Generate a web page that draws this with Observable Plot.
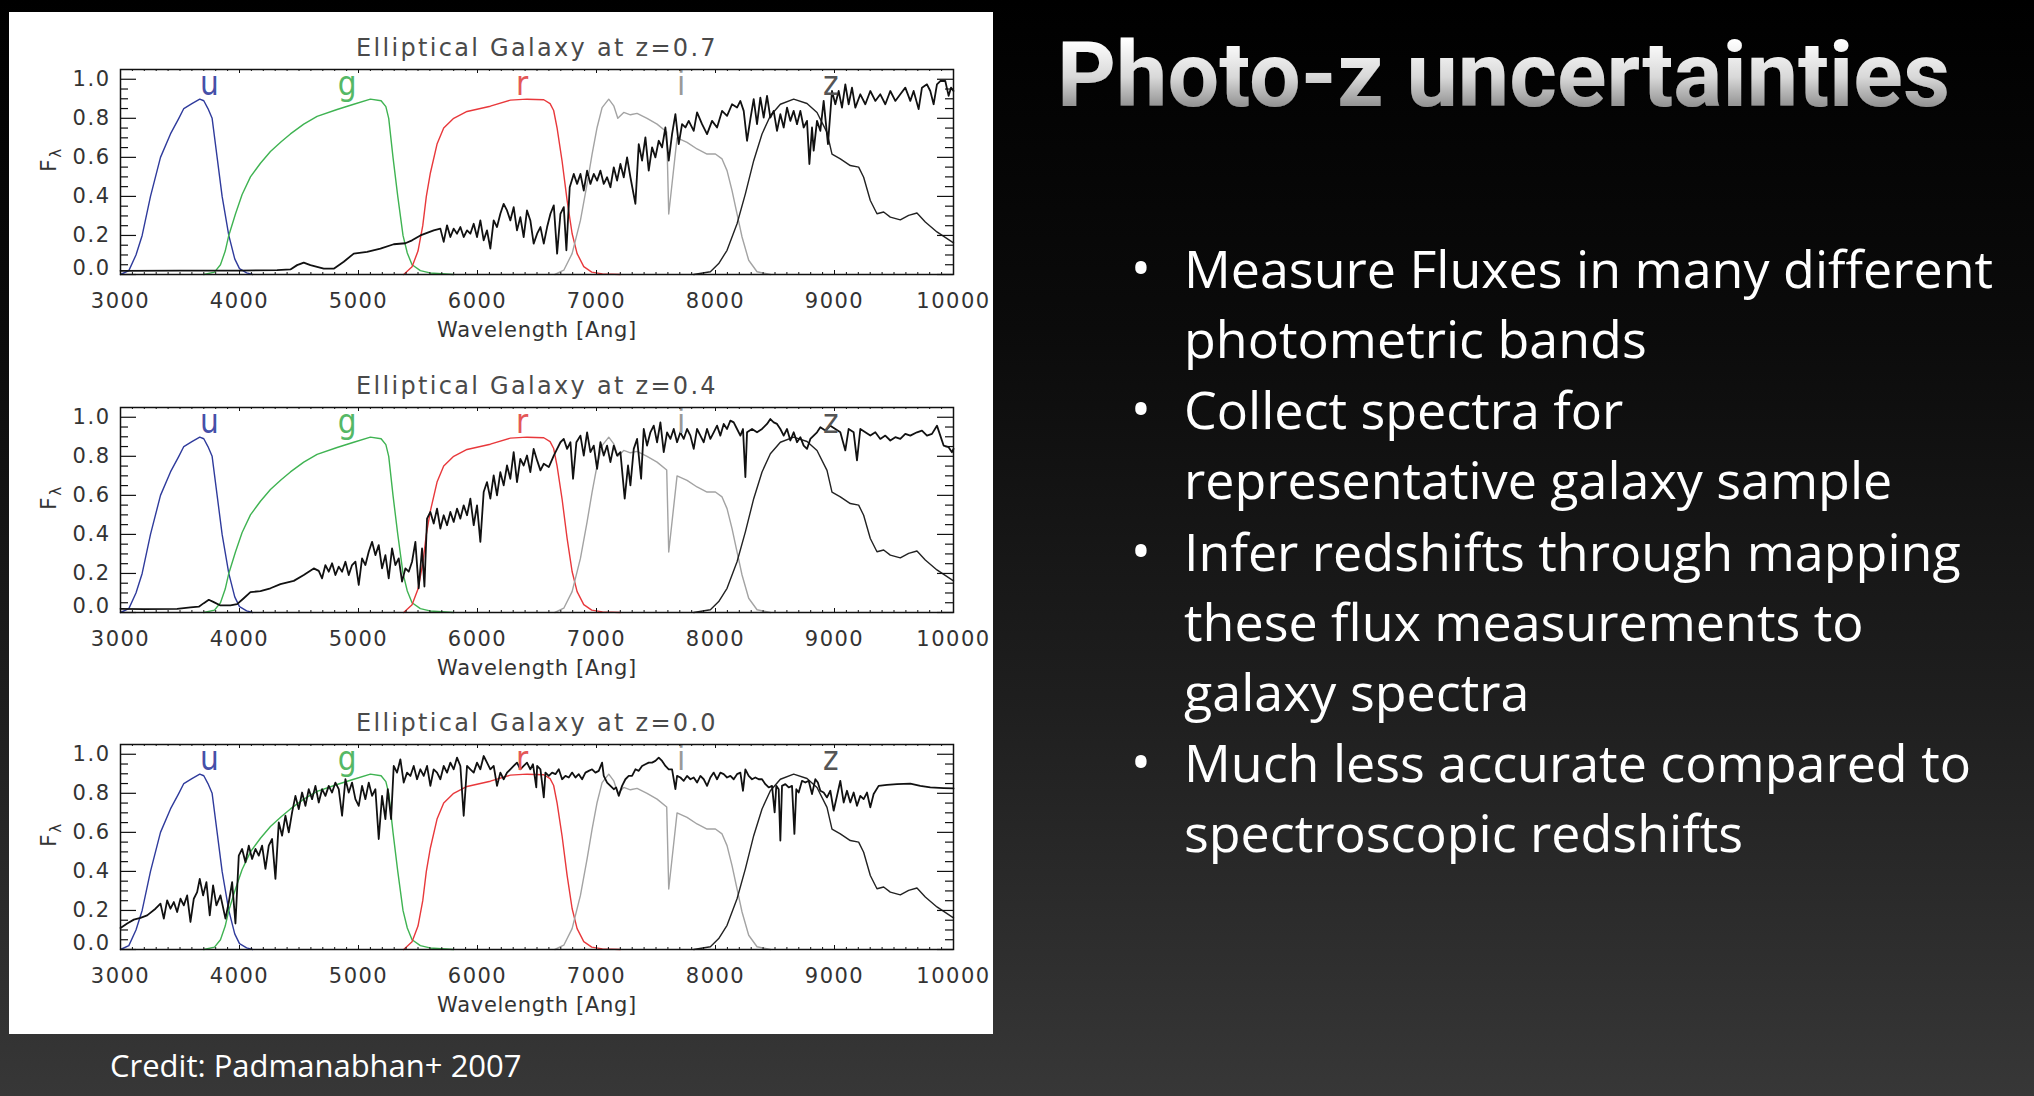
<!DOCTYPE html>
<html><head><meta charset="utf-8">
<script src="https://cdn.jsdelivr.net/npm/d3@7"></script>
<script src="https://cdn.jsdelivr.net/npm/@observablehq/plot@0.6"></script>
<style>
html,body{margin:0;padding:0;}
body{width:2034px;height:1096px;overflow:hidden;position:relative;
 background:linear-gradient(180deg,#000 0%,#0b0b0b 30%,#1f1f1f 65%,#373737 100%);}
#panel{position:absolute;left:9px;top:12px;width:984px;height:1022px;background:#fff;}
#panel svg{position:absolute;left:0;}
#slide{position:absolute;left:0;top:0;}
</style></head><body>
<div id="panel"></div>
<svg id="slide" width="2034" height="1096"></svg>
<script>
// ---------- data ----------
const panelTitles = ["Elliptical Galaxy at z=0.7", "Elliptical Galaxy at z=0.4", "Elliptical Galaxy at z=0.0"];
const xTickValues = [3000,4000,5000,6000,7000,8000,9000,10000];
const yTickValues = [0.2,0.4,0.6,0.8,1.0];
const yZeroLabel = "0.0";
const xLabel = "Wavelength [Ang]";
const yLabel = "Fλ";
const bandNames = ["u","g","r","i","z"];
const bandLabelWavelengths = [3748,4904,6374,7711,8968];
const bandColors = ["#2f3b9c","#3fb352","#e8383b","#a3a3a3","#222222"];
const bandLabelColors = ["#4650a8","#55b866","#e45757","#999999","#555555"];

const filterU = [[3000,0],[3070,0.02],[3130,0.1],[3182,0.2],[3252,0.4],[3336,0.6],[3420,0.72],[3490,0.8],[3532,0.85],[3600,0.875],[3666,0.898],[3700,0.89],[3735,0.85],[3770,0.8],[3812,0.6],[3854,0.4],[3910,0.2],[3960,0.08],[4000,0.03],[4060,0.008],[4110,0]];
const filterG = [[3700,0],[3790,0.012],[3840,0.05],[3880,0.12],[3910,0.2],[3966,0.31],[4022,0.41],[4092,0.5],[4176,0.57],[4260,0.63],[4350,0.68],[4428,0.72],[4540,0.77],[4652,0.81],[4820,0.845],[4960,0.872],[5100,0.898],[5190,0.89],[5230,0.86],[5254,0.8],[5290,0.6],[5330,0.4],[5374,0.2],[5410,0.11],[5450,0.05],[5520,0.02],[5600,0.008],[5800,0]];
const filterR = [[5380,0],[5450,0.04],[5500,0.12],[5540,0.25],[5570,0.4],[5604,0.52],[5660,0.668],[5716,0.75],[5800,0.8],[5912,0.835],[6108,0.862],[6276,0.893],[6416,0.898],[6557,0.895],[6610,0.875],[6640,0.84],[6669,0.75],[6711,0.58],[6753,0.38],[6795,0.21],[6837,0.107],[6893,0.04],[6960,0.012],[7050,0.003],[7200,0]];
const filterI = [[6650,0],[6725,0.022],[6795,0.107],[6865,0.277],[6921,0.464],[6963,0.617],[7005,0.753],[7047,0.855],[7103,0.898],[7145,0.864],[7179,0.8],[7229,0.83],[7285,0.818],[7341,0.825],[7425,0.8],[7509,0.77],[7590,0.73],[7607,0.31],[7677,0.70],[7761,0.677],[7845,0.643],[7929,0.617],[7999,0.617],[8055,0.592],[8097,0.532],[8139,0.43],[8181,0.311],[8223,0.192],[8279,0.073],[8349,0.014],[8461,0]];
const filterZ = [[7817,0],[7957,0.014],[8027,0.056],[8097,0.124],[8181,0.26],[8251,0.413],[8321,0.583],[8391,0.72],[8461,0.813],[8545,0.872],[8657,0.898],[8769,0.876],[8853,0.83],[8937,0.728],[8979,0.617],[9049,0.592],[9133,0.558],[9203,0.55],[9245,0.498],[9301,0.379],[9357,0.311],[9413,0.32],[9469,0.294],[9553,0.28],[9623,0.303],[9693,0.315],[9763,0.269],[9861,0.218],[10000,0.162]];

const specZ07 = [[3000,0.019],[3500,0.02],[4000,0.02],[4316,0.022],[4428,0.026],[4484,0.048],[4540,0.061],[4596,0.048],[4708,0.03],[4792,0.03],[4876,0.065],[4960,0.107],[5072,0.116],[5184,0.133],[5296,0.155],[5394,0.16],[5450,0.175],[5520,0.2],[5632,0.226],[5688,0.235],
[5716,0.167],[5744,0.252],[5772,0.192],[5800,0.235],[5828,0.209],[5856,0.243],[5884,0.192],[5912,0.226],[5940,0.209],[5968,0.26],[5996,0.192],[6024,0.277],[6052,0.175],[6080,0.226],[6108,0.133],[6136,0.277],[6164,0.243],[6192,0.311],[6220,0.362],[6248,0.328],[6276,0.277],[6304,0.345],[6332,0.226],[6360,0.294],[6388,0.192],[6416,0.328],[6444,0.277],[6472,0.158],
[6501,0.209],[6529,0.243],[6557,0.158],[6585,0.243],[6613,0.311],[6641,0.354],[6669,0.107],[6697,0.311],[6725,0.345],[6747,0.124],[6775,0.447],[6809,0.515],[6837,0.464],[6865,0.515],[6893,0.43],[6921,0.532],[6949,0.464],[6977,0.515],[7005,0.481],[7033,0.532],[7061,0.464],[7089,0.498],[7117,0.447],[7145,0.549],[7173,0.481],[7201,0.566],[7229,0.498],[7257,0.60],[7285,0.498],[7327,0.362],[7355,0.668],[7383,0.583],[7411,0.702],[7439,0.532],[7467,0.651],[7495,0.60],[7523,0.685],[7551,0.651],[7579,0.753],[7607,0.583],[7635,0.719],[7663,0.821],[7691,0.668],[7719,0.77],[7747,0.753],[7775,0.787],[7817,0.736],[7845,0.83],[7887,0.77],[7929,0.719],[7971,0.787],[8013,0.753],[8055,0.838],[8097,0.813],[8139,0.872],[8181,0.855],[8209,0.889],[8237,0.838],[8265,0.685],[8293,0.796],[8321,0.898],[8349,0.77],[8377,0.906],[8405,0.804],[8433,0.915],[8461,0.804],[8489,0.838],[8517,0.736],[8545,0.821],[8573,0.753],[8601,0.855],[8629,0.787],[8657,0.838],[8685,0.77],[8713,0.838],[8741,0.753],[8769,0.787],[8789,0.566],[8811,0.753],[8825,0.634],[8853,0.787],[8881,0.736],[8909,0.889],[8945,0.668],[8979,0.94],[9007,0.872],[9035,0.94],[9063,0.855],[9091,0.974],[9119,0.872],[9147,0.957],[9175,0.855],[9217,0.923],[9259,0.872],[9301,0.94],[9343,0.889],[9385,0.923],[9427,0.872],[9469,0.94],[9511,0.889],[9553,0.923],[9595,0.957],[9637,0.889],[9665,0.94],[9707,0.847],[9735,0.957],[9777,0.974],[9805,0.94],[9833,0.872],[9861,0.974],[9889,0.991],[9931,0.991],[9959,0.915],[9979,0.957],[10000,0.94]];

const specZ04 = [[3000,0.019],[3196,0.017],[3476,0.019],[3588,0.026],[3658,0.03],[3700,0.048],[3742,0.065],[3784,0.053],[3840,0.036],[3924,0.036],[3980,0.043],[4036,0.073],[4092,0.104],[4176,0.11],[4260,0.124],[4344,0.145],[4456,0.162],[4540,0.192],[4624,0.226],[4666,0.213],
[4694,0.175],[4722,0.243],[4750,0.209],[4778,0.252],[4806,0.192],[4834,0.235],[4862,0.209],[4890,0.26],[4918,0.192],[4946,0.243],[4974,0.26],[5002,0.141],[5030,0.277],[5058,0.243],[5086,0.311],[5114,0.362],[5142,0.294],[5170,0.345],[5198,0.226],[5226,0.294],[5254,0.175],[5282,0.328],[5310,0.243],[5338,0.277],[5366,0.158],[5394,0.226],[5422,0.209],[5450,0.26],[5478,0.362],[5506,0.124],[5534,0.328],[5554,0.133],[5576,0.481],[5604,0.515],[5632,0.456],[5660,0.532],[5688,0.43],[5716,0.498],[5744,0.447],[5772,0.515],[5800,0.464],[5828,0.532],[5856,0.481],[5884,0.549],[5912,0.498],[5940,0.583],[5968,0.447],[5996,0.549],[6024,0.362],[6052,0.617],[6080,0.668],[6108,0.583],[6136,0.702],[6164,0.60],[6192,0.719],[6220,0.651],[6248,0.753],[6276,0.685],[6304,0.821],[6332,0.668],[6360,0.787],[6388,0.753],[6416,0.804],[6444,0.719],[6472,0.838],
[6501,0.779],[6529,0.728],[6557,0.762],[6599,0.745],[6641,0.804],[6669,0.838],[6697,0.872],[6725,0.889],[6753,0.838],[6781,0.872],[6803,0.685],[6831,0.872],[6865,0.906],[6893,0.804],[6921,0.923],[6949,0.821],[6977,0.855],[7005,0.736],[7033,0.872],[7061,0.804],[7089,0.855],[7117,0.77],[7145,0.855],[7173,0.804],[7201,0.821],[7237,0.583],[7265,0.753],[7285,0.651],[7313,0.838],[7341,0.889],[7375,0.685],[7397,0.94],[7425,0.855],[7453,0.923],[7481,0.957],[7509,0.872],[7537,0.974],[7565,0.821],[7593,0.923],[7621,0.889],[7649,0.94],[7677,0.872],[7705,0.923],[7733,0.889],[7761,0.94],[7789,0.906],[7817,0.838],[7845,0.94],[7873,0.906],[7901,0.872],[7929,0.94],[7957,0.889],[7985,0.923],[8013,0.957],[8041,0.906],[8069,0.966],[8097,0.94],[8125,0.983],[8153,0.974],[8181,0.94],[8209,0.906],[8231,0.94],[8251,0.694],[8265,0.923],[8307,0.94],[8349,0.923],[8391,0.94],[8433,0.966],[8461,0.991],[8489,0.974],[8517,0.966],[8545,0.94],[8573,0.906],[8601,0.94],[8629,0.881],[8657,0.923],[8685,0.872],[8713,0.898],[8741,0.855],[8769,0.838],[8797,0.889],[8825,0.906],[8853,0.923],[8881,0.949],[8923,0.932],[8965,0.957],[9007,0.94],[9049,0.923],[9091,0.83],[9119,0.94],[9161,0.923],[9189,0.779],[9217,0.94],[9259,0.923],[9301,0.906],[9343,0.923],[9385,0.889],[9427,0.906],[9469,0.881],[9511,0.898],[9553,0.889],[9595,0.915],[9637,0.906],[9693,0.923],[9735,0.932],[9777,0.906],[9819,0.915],[9861,0.957],[9889,0.906],[9917,0.855],[9959,0.847],[9987,0.821],[10000,0.838]];

const specZ00 = [[3000,0.11],[3056,0.133],[3112,0.153],[3168,0.162],[3224,0.175],[3294,0.209],[3336,0.235],[3364,0.158],[3392,0.252],[3420,0.209],[3448,0.243],[3476,0.192],[3504,0.26],[3532,0.226],[3560,0.277],[3588,0.141],[3616,0.26],[3644,0.294],[3666,0.362],[3694,0.277],[3722,0.345],[3750,0.175],[3778,0.328],[3806,0.226],[3840,0.277],[3882,0.158],[3910,0.243],[3938,0.345],[3966,0.133],[3994,0.481],[4022,0.515],[4050,0.447],[4078,0.532],[4106,0.464],[4134,0.515],[4162,0.481],[4190,0.532],[4218,0.413],[4246,0.532],[4274,0.566],[4302,0.362],[4330,0.651],[4358,0.583],[4386,0.685],[4414,0.60],[4442,0.702],[4470,0.787],[4498,0.719],[4526,0.804],[4554,0.736],[4582,0.821],[4610,0.77],[4638,0.838],[4666,0.753],[4694,0.821],[4722,0.787],[4750,0.838],[4778,0.804],[4806,0.855],[4834,0.821],[4862,0.685],[4890,0.872],[4918,0.804],[4946,0.855],[4974,0.77],[5002,0.736],[5030,0.838],[5058,0.77],[5086,0.855],[5114,0.787],[5142,0.821],[5170,0.566],[5198,0.787],[5226,0.668],[5246,0.821],[5274,0.668],[5296,0.94],[5324,0.906],[5352,0.974],[5380,0.855],[5408,0.906],[5436,0.889],[5464,0.94],[5492,0.872],[5520,0.923],[5548,0.889],[5576,0.94],[5604,0.838],[5632,0.923],[5660,0.906],[5688,0.872],[5716,0.94],[5744,0.906],[5772,0.957],[5800,0.923],[5828,0.983],[5856,0.94],[5884,0.685],[5912,0.94],[5940,0.923],[5968,0.906],[5996,0.957],[6024,0.923],[6052,0.991],[6080,0.957],[6108,0.923],[6136,0.94],[6164,0.838],[6192,0.906],[6220,0.872],[6248,0.906],[6276,0.923],[6304,0.94],[6332,0.957],[6360,0.923],[6388,0.94],[6416,0.957],[6444,0.923],[6466,0.949],[6494,0.83],
[6501,0.94],[6529,0.923],[6557,0.779],[6571,0.906],[6599,0.889],[6627,0.906],[6655,0.898],[6683,0.923],[6711,0.872],[6739,0.889],[6767,0.881],[6795,0.906],[6823,0.881],[6851,0.898],[6879,0.872],[6907,0.906],[6935,0.915],[6963,0.923],[6991,0.906],[7019,0.915],[7047,0.957],[7061,0.889],[7089,0.855],[7117,0.838],[7145,0.821],[7165,0.83],[7187,0.787],[7215,0.838],[7243,0.872],[7271,0.889],[7299,0.889],[7327,0.923],[7355,0.915],[7383,0.94],[7411,0.949],[7439,0.957],[7467,0.957],[7495,0.966],[7523,0.983],[7551,0.966],[7579,0.94],[7607,0.923],[7635,0.923],[7663,0.821],[7677,0.889],[7705,0.881],[7733,0.864],[7761,0.889],[7789,0.872],[7817,0.881],[7845,0.855],[7873,0.889],[7901,0.872],[7929,0.838],[7957,0.881],[7985,0.906],[8013,0.872],[8041,0.906],[8069,0.898],[8097,0.881],[8125,0.889],[8153,0.872],[8181,0.898],[8209,0.906],[8231,0.813],[8251,0.923],[8279,0.889],[8307,0.872],[8335,0.881],[8363,0.872],[8391,0.872],[8419,0.847],[8447,0.83],[8475,0.838],[8497,0.702],[8511,0.838],[8531,0.821],[8545,0.558],[8559,0.838],[8587,0.847],[8615,0.83],[8643,0.838],[8663,0.592],[8679,0.821],[8699,0.804],[8727,0.864],[8755,0.855],[8783,0.864],[8811,0.796],[8839,0.872],[8860,0.855],[8881,0.813],[8909,0.804],[8937,0.779],[8965,0.813],[8993,0.711],[9021,0.787],[9049,0.864],[9077,0.753],[9105,0.813],[9133,0.753],[9161,0.804],[9189,0.736],[9217,0.787],[9245,0.77],[9273,0.804],[9301,0.728],[9329,0.796],[9371,0.838],[9441,0.843],[9525,0.847],[9637,0.85],[9721,0.838],[9805,0.83],[9917,0.827],[10000,0.825]];

const slideTitle = "Photo-z uncertainties";
const bulletLines = [
  {bullet:true,  text:"Measure Fluxes in many different"},
  {bullet:false, text:"photometric bands"},
  {bullet:true,  text:"Collect spectra for"},
  {bullet:false, text:"representative galaxy sample"},
  {bullet:true,  text:"Infer redshifts through mapping"},
  {bullet:false, text:"these flux measurements to"},
  {bullet:false, text:"galaxy spectra"},
  {bullet:true,  text:"Much less accurate compared to"},
  {bullet:false, text:"spectroscopic redshifts"}
];
const creditText = "Credit: Padmanabhan+ 2007";

// ---------- chart ----------
const filters = [filterU, filterG, filterR, filterI, filterZ];
const spectra = [specZ07, specZ04, specZ00];
const bandLabels = bandNames.map((b,i)=>({band:b, wl:bandLabelWavelengths[i], color:bandLabelColors[i]}));
const xMinor = d3.range(3100, 10000, 100).filter(v => v % 1000 !== 0);
const yMinor = d3.range(1, 21).map(k => Math.round(k*5)/100).filter(v => Math.round(v*100) % 20 !== 0);
const yMajor = [0].concat(yTickValues);

const W = 984, H = 338, mL = 111, mR = 40, mT = 57, mB = 76;
const iW = W - mL - mR, iH = H - mT - mB;
const tops = [0, 338, 675];
const font = "DejaVu Sans";
const ink = "#111";

const panel = document.getElementById("panel");
spectra.forEach((spec, p) => {
  const marks = [];
  filters.forEach((f, i) => marks.push(Plot.line(f, {x: d => d[0], y: d => d[1], stroke: bandColors[i], strokeWidth: 1.4})));
  marks.push(Plot.line(spec, {x: d => d[0], y: d => d[1], stroke: ink, strokeWidth: 1.8, strokeLinejoin: "round"}));
  marks.push(Plot.text(bandLabels, {x: "wl", y: () => 0.92, text: "band", fill: "color", fontSize: 33, fontWeight: 300, lineAnchor: "bottom", fontFamily: "DejaVu Sans Condensed, DejaVu Sans"}));
  marks.push(Plot.frame({stroke: ink, strokeWidth: 1.5}));
  // inside ticks, IDL style
  marks.push(Plot.ruleX(xTickValues, {x: d => d, insetTop: iH - 4, stroke: ink}));
  marks.push(Plot.ruleX(xTickValues, {x: d => d, insetBottom: iH - 4, stroke: ink}));
  marks.push(Plot.ruleX(xMinor, {x: d => d, insetTop: iH - 2, stroke: ink}));
  marks.push(Plot.ruleX(xMinor, {x: d => d, insetBottom: iH - 2, stroke: ink}));
  marks.push(Plot.ruleY(yMajor, {y: d => d, insetRight: iW - 16, stroke: ink, strokeWidth: 1.2}));
  marks.push(Plot.ruleY(yMajor, {y: d => d, insetLeft: iW - 16, stroke: ink, strokeWidth: 1.2}));
  marks.push(Plot.ruleY(yMinor, {y: d => d, insetRight: iW - 8, stroke: ink, strokeWidth: 1.2}));
  marks.push(Plot.ruleY(yMinor, {y: d => d, insetLeft: iW - 8, stroke: ink, strokeWidth: 1.2}));
  marks.push(Plot.axisX({ticks: xTickValues, tickSize: 0, tickPadding: 19, tickFormat: d => String(d), label: null, fontSize: 21}));
  marks.push(Plot.axisY({ticks: yTickValues, tickSize: 0, tickPadding: 10, tickFormat: d => d.toFixed(1), label: null, fontSize: 21}));
  marks.push(Plot.text([{v: 0, t: yZeroLabel}], {y: "v", text: "t", frameAnchor: "left", textAnchor: "end", dx: -10, dy: -6, fontSize: 21}));
  marks.push(Plot.text([panelTitles[p]], {frameAnchor: "top", dy: -14, lineAnchor: "bottom", fontSize: 24, fill: "#4a4a4a"}));
  marks.push(Plot.text([xLabel], {frameAnchor: "bottom", dy: 62, lineAnchor: "bottom", fontSize: 21}));
  marks.push(Plot.text([yLabel], {frameAnchor: "left", dx: -72, rotate: -90, fontSize: 22}));
  const svg = Plot.plot({
    width: W, height: H, marginLeft: mL, marginRight: mR, marginTop: mT, marginBottom: mB,
    x: {domain: [3000, 10000], axis: null},
    y: {domain: [0, 1.05], axis: null},
    style: {background: "transparent", fontFamily: font, color: "#333", overflow: "visible", letterSpacing: "1.5px"},
    marks
  });
  svg.style.top = tops[p] + "px";
  const sel = d3.select(svg).selectAll("text");
  sel.filter(function(){ return this.textContent === panelTitles[p]; }).attr("letter-spacing", 2.3);
  sel.filter(function(){ return this.textContent === xLabel; }).attr("letter-spacing", 0.7);
  sel.filter(function(){ return bandNames.includes(this.textContent); }).attr("letter-spacing", 0);
  sel.filter(function(){ return this.textContent === yLabel; })
    .each(function(){ this.textContent = ""; const s = d3.select(this);
      s.append("tspan").text("F");
      s.append("tspan").attr("font-size", 15).attr("dy", 5).text("λ"); });
  panel.appendChild(svg);
});

// ---------- slide text ----------
const slide = d3.select("#slide");
const defs = slide.append("defs");
const grad = defs.append("linearGradient").attr("id","silver").attr("gradientUnits","userSpaceOnUse")
  .attr("x1",0).attr("y1",40).attr("x2",0).attr("y2",108);
grad.append("stop").attr("offset","0%").attr("stop-color","#ffffff");
grad.append("stop").attr("offset","55%").attr("stop-color","#d8d8d8");
grad.append("stop").attr("offset","100%").attr("stop-color","#8e8e8e");
const flt = defs.append("filter").attr("id","shadow").attr("x","-5%").attr("y","-20%").attr("width","110%").attr("height","150%");
flt.append("feDropShadow").attr("dx",0).attr("dy",2).attr("stdDeviation",1.5).attr("flood-color","#000").attr("flood-opacity",0.8);

slide.append("text").attr("x",1057).attr("y",106).attr("font-family","Roboto").attr("font-weight",700)
  .attr("font-size",90).attr("textLength",893).attr("lengthAdjust","spacingAndGlyphs")
  .attr("fill","url(#silver)").attr("filter","url(#shadow)").text(slideTitle);

const baselines = [287.5,358,429,499,570.5,640.5,711,781.5,852];
bulletLines.forEach((l,i) => {
  if (l.bullet) slide.append("text").attr("x",1141).attr("y",baselines[i]).attr("text-anchor","middle")
    .attr("font-family","Open Sans").attr("font-size",54).attr("fill","#fff").text("•");
  slide.append("text").attr("x",1184).attr("y",baselines[i]).attr("font-family","Open Sans")
    .attr("font-size",52).attr("fill","#fff").text(l.text);
});
slide.append("text").attr("x",110).attr("y",1077).attr("font-family","Open Sans").attr("font-size",31)
  .attr("fill","#fff").text(creditText);
</script>
</body></html>
